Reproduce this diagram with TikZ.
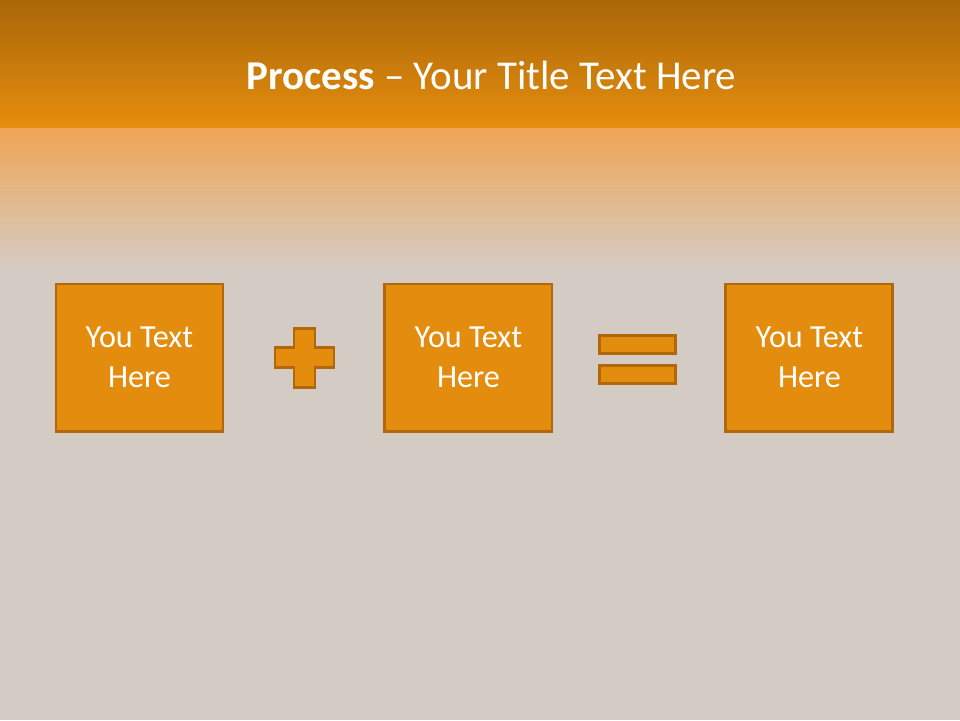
\documentclass[tikz,border=0pt]{standalone}
\usepackage{fontspec}
\setmainfont{Carlito}
\usetikzlibrary{positioning,calc}
\definecolor{barktop}{RGB}{170,102,8}
\definecolor{barbot}{RGB}{230,142,14}
\definecolor{glow}{RGB}{240,165,85}
\definecolor{ash}{RGB}{212,204,196}
\definecolor{amber}{RGB}{228,140,14}
\definecolor{rust}{RGB}{176,104,10}
\tikzset{
  card/.style={draw=rust,line width=1.7pt,fill=amber,minimum width=3.34cm,minimum height=2.94cm,align=center,text=white,font=\fontsize{18.3}{22.8}\selectfont},
  bar/.style={draw=rust,line width=1.7pt,fill=amber,minimum width=1.52cm,minimum height=0.37cm,inner sep=0pt},
  plusmark/.style={draw=rust,line width=1.7pt,fill=amber}
}
\begin{document}
\begin{tikzpicture}
  \useasboundingbox (0,0) rectangle (19.2,-14.4);
  % backdrop
  \fill[top color=barktop,bottom color=barbot] (0,0) rectangle (19.2,-2.56);
  \fill[top color=glow,bottom color=ash] (0,-2.56) rectangle (19.2,-5.4);
  \fill[ash] (0,-5.4) rectangle (19.2,-14.4);
  \node[text=white,font=\fontsize{23.3}{28}\selectfont] (title) at (9.83,-1.5) {\textbf{Process} -- Your Title Text Here};

  \node[card] (box1) at (2.79,-7.15) {You Text\\Here};
  \node[card,right=3.18cm of box1] (box2) {You Text\\Here};
  \node[card,right=3.42cm of box2] (box3) {You Text\\Here};

  % plus sign
  \coordinate[right=1.6cm of box1.east] (plus);
  \draw[plusmark,shift={(plus)}] (-0.21,0.59) -- (0.21,0.59) -- (0.21,0.2) -- (0.59,0.2) -- (0.59,-0.2)
    -- (0.21,-0.2) -- (0.21,-0.59) -- (-0.21,-0.59) -- (-0.21,-0.2) -- (-0.59,-0.2) -- (-0.59,0.2)
    -- (-0.21,0.2) -- cycle;

  % equals sign
  \coordinate[right=1.69cm of box2.east] (equals);
  \node[bar] (eqtop) at ($(equals)+(0,0.26)$) {};
  \node[bar] (eqbot) at ($(equals)+(0,-0.34)$) {};
\end{tikzpicture}
\end{document}
